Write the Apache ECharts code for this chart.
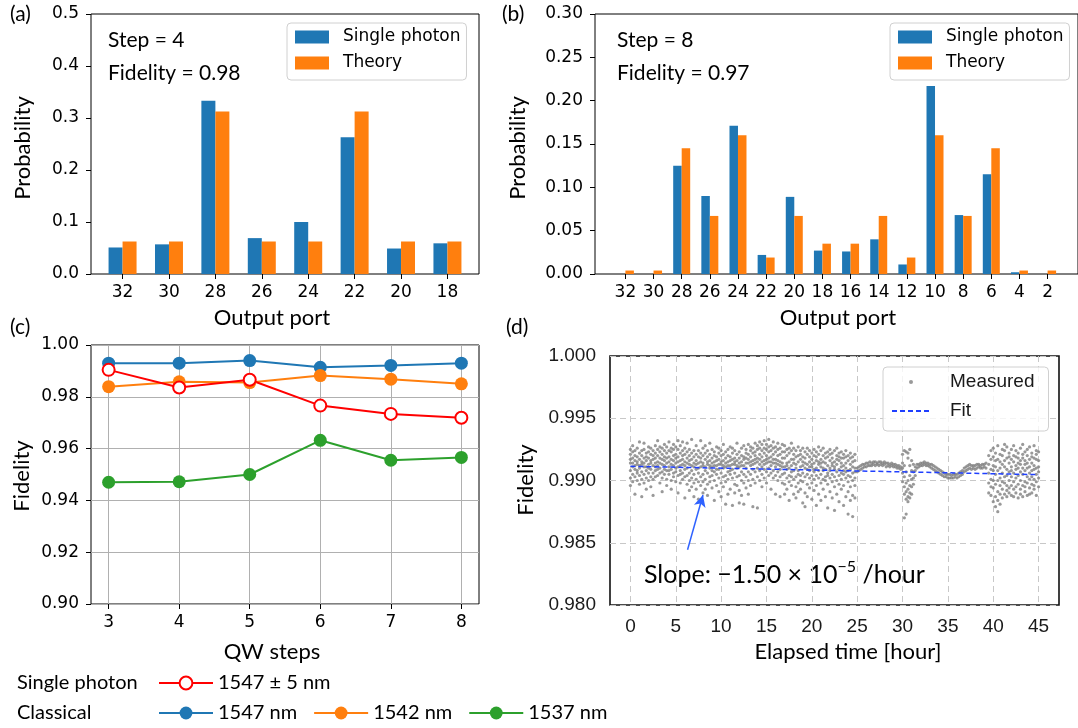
<!DOCTYPE html>
<html lang="en">
<head>
    <meta charset="UTF-8">
    <title>QW fidelity</title>
    <style type="text/css">
        body {
            margin: 0;
            background: #fff;
        }

        #chart {
            width: 1078px;
            height: 728px;
        }
    </style>
    <script type="text/javascript" src="https://cdn.jsdelivr.net/npm/echarts@6/dist/echarts.min.js"></script>
</head>
<body>
    <div id="chart"></div>
</body>
</html>
<script type="text/javascript">
    // (a) step 4
    var portsA = ['32', '30', '28', '26', '24', '22', '20', '18'];
    var singleA = [0.051, 0.057, 0.333, 0.069, 0.100, 0.263, 0.049, 0.059];
    var theoryA = [0.0625, 0.0625, 0.3125, 0.0625, 0.0625, 0.3125, 0.0625, 0.0625];

    // (b) step 8
    var portsB = ['32', '30', '28', '26', '24', '22', '20', '18', '16', '14', '12', '10', '8', '6', '4', '2'];
    var singleB = [0, 0, 0.125, 0.090, 0.171, 0.022, 0.089, 0.027, 0.026, 0.040, 0.011, 0.217, 0.068, 0.115, 0.002, 0];
    var theoryB = [0.004, 0.004, 0.145, 0.067, 0.160, 0.019, 0.067, 0.035, 0.035, 0.067, 0.019, 0.160, 0.067, 0.145, 0.004, 0.004];

    // (c) fidelity vs QW steps
    var qwSteps = [3, 4, 5, 6, 7, 8];
    var single1547 = [0.9904, 0.9836, 0.9866, 0.9766, 0.9734, 0.9719];
    var classical1547 = [0.9930, 0.9930, 0.9940, 0.9914, 0.9921, 0.9930];
    var classical1542 = [0.9839, 0.9858, 0.9855, 0.9882, 0.9868, 0.9850];
    var classical1537 = [0.9470, 0.9472, 0.9500, 0.9632, 0.9555, 0.9566];

    // (d) long-term fidelity, rows are [hour, fidelity, fidelity, ...]
    var timeTicks = [0, 5, 10, 15, 20, 25, 30, 35, 40, 45];
    var cloudEarly = [
        [0.00, 0.9921, 0.9914, 0.9908, 0.9902, 0.9917, 0.9896, 0.9925],
        [0.25, 0.9918, 0.9911, 0.9905, 0.9923, 0.9899, 0.9914, 0.9928],
        [0.50, 0.9916, 0.9909, 0.9920, 0.9903, 0.9912, 0.9889, 0.9924],
        [0.75, 0.9913, 0.9919, 0.9906, 0.9900, 0.9915, 0.9926, 0.9908],
        [1.00, 0.9922, 0.9910, 0.9904, 0.9917, 0.9897, 0.9912, 0.9931],
        [1.25, 0.9915, 0.9907, 0.9920, 0.9901, 0.9913, 0.9887, 0.9924],
        [1.50, 0.9911, 0.9918, 0.9905, 0.9925, 0.9898, 0.9914, 0.9930],
        [1.75, 0.9919, 0.9908, 0.9902, 0.9916, 0.9922, 0.9893, 0.9911],
        [2.00, 0.9923, 0.9913, 0.9906, 0.9918, 0.9900, 0.9927, 0.9910],
        [2.25, 0.9916, 0.9909, 0.9921, 0.9903, 0.9914, 0.9895, 0.9926],
        [2.50, 0.9920, 0.9912, 0.9906, 0.9924, 0.9901, 0.9917, 0.9888],
        [2.75, 0.9914, 0.9922, 0.9908, 0.9918, 0.9903, 0.9928, 0.9911],
        [3.00, 0.9925, 0.9915, 0.9909, 0.9920, 0.9904, 0.9932, 0.9912],
        [3.25, 0.9918, 0.9910, 0.9923, 0.9906, 0.9914, 0.9898, 0.9927],
        [3.50, 0.9921, 0.9913, 0.9907, 0.9926, 0.9902, 0.9917, 0.9891],
        [3.75, 0.9916, 0.9924, 0.9909, 0.9919, 0.9905, 0.9929, 0.9912],
        [4.00, 0.9922, 0.9914, 0.9908, 0.9927, 0.9901, 0.9918, 0.9896],
        [4.25, 0.9919, 0.9911, 0.9924, 0.9905, 0.9915, 0.9931, 0.9908],
        [4.50, 0.9917, 0.9923, 0.9909, 0.9913, 0.9900, 0.9926, 0.9893],
        [4.75, 0.9920, 0.9912, 0.9906, 0.9925, 0.9916, 0.9903, 0.9929],
        [5.00, 0.9914, 0.9921, 0.9907, 0.9918, 0.9899, 0.9927, 0.9910],
        [5.25, 0.9919, 0.9911, 0.9925, 0.9904, 0.9915, 0.9932, 0.9890],
        [5.50, 0.9916, 0.9922, 0.9908, 0.9912, 0.9898, 0.9928, 0.9905],
        [5.75, 0.9920, 0.9913, 0.9906, 0.9924, 0.9901, 0.9917, 0.9931],
        [6.00, 0.9915, 0.9909, 0.9921, 0.9903, 0.9912, 0.9886, 0.9926],
        [6.25, 0.9918, 0.9910, 0.9904, 0.9923, 0.9897, 0.9914, 0.9930],
        [6.50, 0.9913, 0.9920, 0.9906, 0.9916, 0.9900, 0.9892, 0.9925],
        [6.75, 0.9917, 0.9908, 0.9922, 0.9902, 0.9912, 0.9933, 0.9895],
        [7.00, 0.9911, 0.9919, 0.9905, 0.9914, 0.9898, 0.9924, 0.9887],
        [7.25, 0.9916, 0.9909, 0.9921, 0.9901, 0.9913, 0.9928, 0.9893],
        [7.50, 0.9914, 0.9906, 0.9919, 0.9899, 0.9910, 0.9885, 0.9924],
        [7.75, 0.9918, 0.9911, 0.9903, 0.9922, 0.9896, 0.9915, 0.9932],
        [8.00, 0.9912, 0.9920, 0.9905, 0.9914, 0.9890, 0.9926, 0.9899],
        [8.25, 0.9917, 0.9908, 0.9922, 0.9901, 0.9911, 0.9893, 0.9928],
        [8.50, 0.9913, 0.9906, 0.9919, 0.9897, 0.9915, 0.9924, 0.9888],
        [8.75, 0.9916, 0.9910, 0.9903, 0.9921, 0.9899, 0.9912, 0.9930],
        [9.00, 0.9911, 0.9918, 0.9904, 0.9914, 0.9894, 0.9925, 0.9908],
        [9.25, 0.9915, 0.9907, 0.9920, 0.9900, 0.9912, 0.9884, 0.9923],
        [9.50, 0.9912, 0.9919, 0.9905, 0.9916, 0.9896, 0.9927, 0.9909],
        [9.75, 0.9917, 0.9909, 0.9922, 0.9902, 0.9913, 0.9891, 0.9926],
        [10.00, 0.9913, 0.9906, 0.9920, 0.9898, 0.9915, 0.9924, 0.9887],
        [10.25, 0.9916, 0.9910, 0.9903, 0.9921, 0.9895, 0.9912, 0.9929],
        [10.50, 0.9911, 0.9918, 0.9904, 0.9914, 0.9899, 0.9923, 0.9881],
        [10.75, 0.9915, 0.9907, 0.9920, 0.9901, 0.9912, 0.9889, 0.9925],
        [11.00, 0.9912, 0.9919, 0.9905, 0.9916, 0.9893, 0.9927, 0.9908],
        [11.25, 0.9917, 0.9909, 0.9922, 0.9902, 0.9913, 0.9880, 0.9926],
        [11.50, 0.9913, 0.9906, 0.9918, 0.9897, 0.9915, 0.9924, 0.9890],
        [11.75, 0.9916, 0.9910, 0.9903, 0.9921, 0.9896, 0.9912, 0.9930],
        [12.00, 0.9911, 0.9918, 0.9904, 0.9914, 0.9892, 0.9923, 0.9882],
        [12.25, 0.9915, 0.9907, 0.9920, 0.9900, 0.9912, 0.9888, 0.9926],
        [12.50, 0.9912, 0.9919, 0.9905, 0.9917, 0.9898, 0.9928, 0.9881],
        [12.75, 0.9918, 0.9910, 0.9922, 0.9903, 0.9914, 0.9894, 0.9925],
        [13.00, 0.9914, 0.9921, 0.9907, 0.9917, 0.9900, 0.9929, 0.9889],
        [13.25, 0.9919, 0.9912, 0.9924, 0.9905, 0.9915, 0.9896, 0.9927],
        [13.50, 0.9916, 0.9922, 0.9909, 0.9913, 0.9901, 0.9926, 0.9879],
        [13.75, 0.9920, 0.9914, 0.9907, 0.9923, 0.9917, 0.9898, 0.9930],
        [14.00, 0.9918, 0.9925, 0.9910, 0.9915, 0.9903, 0.9928, 0.9878],
        [14.25, 0.9921, 0.9913, 0.9926, 0.9908, 0.9917, 0.9900, 0.9931],
        [14.50, 0.9919, 0.9924, 0.9911, 0.9915, 0.9905, 0.9929, 0.9895],
        [14.75, 0.9922, 0.9916, 0.9909, 0.9926, 0.9913, 0.9902, 0.9932],
        [15.00, 0.9920, 0.9914, 0.9925, 0.9907, 0.9917, 0.9898, 0.9929],
        [15.25, 0.9923, 0.9915, 0.9910, 0.9927, 0.9904, 0.9918, 0.9933],
        [15.50, 0.9919, 0.9912, 0.9924, 0.9906, 0.9915, 0.9893, 0.9928],
        [15.75, 0.9921, 0.9914, 0.9908, 0.9926, 0.9902, 0.9917, 0.9931],
        [16.00, 0.9917, 0.9911, 0.9923, 0.9904, 0.9914, 0.9889, 0.9927],
        [16.25, 0.9920, 0.9913, 0.9907, 0.9925, 0.9900, 0.9916, 0.9930],
        [16.50, 0.9915, 0.9909, 0.9921, 0.9903, 0.9912, 0.9887, 0.9926],
        [16.75, 0.9918, 0.9911, 0.9905, 0.9923, 0.9898, 0.9914, 0.9929],
        [17.00, 0.9918, 0.9906, 0.9923, 0.9911, 0.9897, 0.9928, 0.9889],
        [17.25, 0.9909, 0.9920, 0.9902, 0.9914, 0.9925, 0.9893, 0.9912],
        [17.50, 0.9922, 0.9904, 0.9915, 0.9899, 0.9910, 0.9884, 0.9926],
        [17.75, 0.9907, 0.9917, 0.9912, 0.9924, 0.9896, 0.9903, 0.9930],
        [18.00, 0.9914, 0.9901, 0.9921, 0.9908, 0.9889, 0.9926, 0.9917],
        [18.25, 0.9903, 0.9919, 0.9910, 0.9895, 0.9924, 0.9913, 0.9886],
        [18.50, 0.9920, 0.9908, 0.9898, 0.9915, 0.9927, 0.9905, 0.9891],
        [18.75, 0.9911, 0.9924, 0.9904, 0.9917, 0.9893, 0.9921, 0.9900],
        [19.00, 0.9906, 0.9915, 0.9926, 0.9899, 0.9912, 0.9882, 0.9919],
        [19.25, 0.9918, 0.9903, 0.9910, 0.9923, 0.9890, 0.9914, 0.9879],
        [19.50, 0.9909, 0.9921, 0.9897, 0.9913, 0.9905, 0.9926, 0.9887],
        [19.75, 0.9915, 0.9902, 0.9919, 0.9908, 0.9924, 0.9894, 0.9911],
        [20.00, 0.9904, 0.9917, 0.9911, 0.9898, 0.9922, 0.9885, 0.9913],
        [20.25, 0.9920, 0.9907, 0.9914, 0.9901, 0.9925, 0.9892, 0.9909],
        [20.50, 0.9910, 0.9923, 0.9896, 0.9916, 0.9904, 0.9880, 0.9919],
        [20.75, 0.9902, 0.9913, 0.9921, 0.9908, 0.9889, 0.9927, 0.9915],
        [21.00, 0.9917, 0.9905, 0.9911, 0.9924, 0.9898, 0.9914, 0.9884],
        [21.25, 0.9908, 0.9920, 0.9901, 0.9915, 0.9926, 0.9893, 0.9910],
        [21.50, 0.9914, 0.9903, 0.9922, 0.9909, 0.9887, 0.9918, 0.9900],
        [21.75, 0.9906, 0.9919, 0.9912, 0.9897, 0.9923, 0.9904, 0.9878],
        [22.00, 0.9921, 0.9910, 0.9902, 0.9916, 0.9891, 0.9925, 0.9908],
        [22.25, 0.9912, 0.9899, 0.9918, 0.9905, 0.9922, 0.9886, 0.9914],
        [22.50, 0.9903, 0.9915, 0.9909, 0.9924, 0.9895, 0.9911, 0.9876],
        [22.75, 0.9917, 0.9907, 0.9920, 0.9900, 0.9913, 0.9889, 0.9926],
        [23.00, 0.9909, 0.9922, 0.9904, 0.9916, 0.9897, 0.9919, 0.9883],
        [23.25, 0.9914, 0.9901, 0.9911, 0.9923, 0.9893, 0.9906, 0.9918],
        [23.50, 0.9905, 0.9918, 0.9908, 0.9896, 0.9921, 0.9912, 0.9880],
        [23.75, 0.9919, 0.9910, 0.9902, 0.9914, 0.9887, 0.9924, 0.9907],
        [24.00, 0.9908, 0.9916, 0.9899, 0.9920, 0.9904, 0.9891, 0.9873],
        [24.25, 0.9913, 0.9903, 0.9918, 0.9909, 0.9895, 0.9922, 0.9884],
        [24.50, 0.9906, 0.9919, 0.9911, 0.9900, 0.9915, 0.9888, 0.9871],
        [24.75, 0.9910, 0.9902, 0.9916, 0.9907, 0.9896, 0.9921, 0.9886]
    ];
    var bandMid = [
        [25.0, 0.9907, 0.9910], [25.2, 0.9908, 0.9911], [25.4, 0.9909, 0.9912], [25.6, 0.9910, 0.9913],
        [25.8, 0.9911, 0.9913], [26.0, 0.9911, 0.9914], [26.2, 0.9912, 0.9914], [26.4, 0.9912, 0.9915],
        [26.6, 0.9912, 0.9914], [26.8, 0.9913, 0.9915], [27.0, 0.9912, 0.9915], [27.2, 0.9913, 0.9914],
        [27.4, 0.9912, 0.9915], [27.6, 0.9913, 0.9915], [27.8, 0.9912, 0.9914], [28.0, 0.9913, 0.9915],
        [28.2, 0.9911, 0.9914], [28.4, 0.9912, 0.9914], [28.6, 0.9911, 0.9913], [28.8, 0.9912, 0.9914],
        [29.0, 0.9911, 0.9913], [29.2, 0.9911, 0.9913], [29.4, 0.9910, 0.9912], [29.6, 0.9910, 0.9912],
        [29.8, 0.9909, 0.9911]
    ];
    var dipMid = [
        [30.0, 0.9910, 0.9906, 0.9921, 0.9899, 0.9914],
        [30.2, 0.9903, 0.9924, 0.9895, 0.9870, 0.9912, 0.9889],
        [30.4, 0.9898, 0.9891, 0.9923, 0.9885, 0.9907, 0.9873],
        [30.6, 0.9893, 0.9887, 0.9918, 0.9883, 0.9900, 0.9922],
        [30.8, 0.9890, 0.9896, 0.9886, 0.9912, 0.9904, 0.9925],
        [31.0, 0.9895, 0.9901, 0.9889, 0.9916, 0.9908],
        [31.2, 0.9902, 0.9907, 0.9897, 0.9913],
        [31.4, 0.9908, 0.9911, 0.9904],
        [31.6, 0.9910, 0.9913]
    ];
    var bandLate = [
        [31.8, 0.9911, 0.9913], [32.0, 0.9912, 0.9914], [32.2, 0.9912, 0.9914], [32.4, 0.9913, 0.9915],
        [32.6, 0.9912, 0.9914], [32.8, 0.9912, 0.9914], [33.0, 0.9911, 0.9913], [33.2, 0.9910, 0.9913],
        [33.4, 0.9909, 0.9912], [33.6, 0.9908, 0.9911], [33.8, 0.9907, 0.9910], [34.0, 0.9906, 0.9909],
        [34.2, 0.9905, 0.9908], [34.4, 0.9904, 0.9907], [34.6, 0.9903, 0.9906], [34.8, 0.9903, 0.9905],
        [35.0, 0.9902, 0.9905], [35.2, 0.9902, 0.9905], [35.4, 0.9902, 0.9904], [35.6, 0.9902, 0.9905],
        [35.8, 0.9903, 0.9905], [36.0, 0.9902, 0.9905], [36.2, 0.9903, 0.9906], [36.4, 0.9904, 0.9907],
        [36.6, 0.9905, 0.9908], [36.8, 0.9907, 0.9910], [37.0, 0.9908, 0.9911], [37.2, 0.9909, 0.9912],
        [37.4, 0.9910, 0.9913], [37.6, 0.9909, 0.9912], [37.8, 0.9910, 0.9912], [38.0, 0.9909, 0.9912],
        [38.2, 0.9910, 0.9913], [38.4, 0.9911, 0.9913], [38.6, 0.9910, 0.9912], [38.8, 0.9910, 0.9913],
        [39.0, 0.9911, 0.9913], [39.2, 0.9910, 0.9914]
    ];
    var cloudLate = [
        [39.50, 0.9913, 0.9898, 0.9906, 0.9920, 0.9890],
        [39.75, 0.9901, 0.9917, 0.9888, 0.9909, 0.9924, 0.9895],
        [40.00, 0.9919, 0.9894, 0.9908, 0.9883, 0.9912, 0.9926, 0.9900],
        [40.25, 0.9897, 0.9911, 0.9922, 0.9887, 0.9905, 0.9879, 0.9916],
        [40.50, 0.9908, 0.9891, 0.9917, 0.9900, 0.9928, 0.9884, 0.9875],
        [40.75, 0.9915, 0.9902, 0.9889, 0.9921, 0.9896, 0.9910, 0.9881],
        [41.00, 0.9893, 0.9920, 0.9906, 0.9913, 0.9886, 0.9925, 0.9899],
        [41.25, 0.9911, 0.9898, 0.9924, 0.9889, 0.9916, 0.9903, 0.9929],
        [41.50, 0.9904, 0.9918, 0.9892, 0.9909, 0.9927, 0.9896, 0.9887],
        [41.75, 0.9922, 0.9900, 0.9914, 0.9890, 0.9907, 0.9919, 0.9894],
        [42.00, 0.9896, 0.9911, 0.9925, 0.9903, 0.9888, 0.9917, 0.9908],
        [42.25, 0.9915, 0.9893, 0.9906, 0.9920, 0.9899, 0.9928, 0.9887],
        [42.50, 0.9902, 0.9919, 0.9890, 0.9912, 0.9924, 0.9895, 0.9909],
        [42.75, 0.9918, 0.9897, 0.9910, 0.9886, 0.9922, 0.9904, 0.9914],
        [43.00, 0.9893, 0.9913, 0.9926, 0.9900, 0.9916, 0.9889, 0.9907],
        [43.25, 0.9910, 0.9896, 0.9921, 0.9905, 0.9887, 0.9918, 0.9929],
        [43.50, 0.9899, 0.9916, 0.9891, 0.9923, 0.9908, 0.9895, 0.9913],
        [43.75, 0.9920, 0.9903, 0.9914, 0.9888, 0.9925, 0.9898, 0.9910],
        [44.00, 0.9894, 0.9911, 0.9927, 0.9901, 0.9917, 0.9889, 0.9906],
        [44.25, 0.9914, 0.9897, 0.9908, 0.9922, 0.9890, 0.9919, 0.9903],
        [44.50, 0.9901, 0.9918, 0.9893, 0.9912, 0.9928, 0.9896, 0.9909],
        [44.75, 0.9917, 0.9905, 0.9921, 0.9888, 0.9910, 0.9899, 0.9924],
        [45.00, 0.9907, 0.9895, 0.9916, 0.9902, 0.9923, 0.9911]
    ];
    var fitTimes = [0, 45];
    var fitValues = [0.99114, 0.99047];

    function rowsToPoints(rows) {
        var out = [];
        for (var i = 0; i < rows.length; i++) {
            for (var k = 1; k < rows[i].length; k++) {
                out.push([rows[i][0], rows[i][k]]);
            }
        }
        return out;
    }

    function indexed(arr) {
        var out = [];
        for (var i = 0; i < arr.length; i++) {
            out.push([i, arr[i]]);
        }
        return out;
    }

    function paired(xs, ys) {
        var out = [];
        for (var i = 0; i < xs.length; i++) {
            out.push([xs[i], ys[i]]);
        }
        return out;
    }

    function range(n) {
        var out = [];
        for (var i = 0; i < n; i++) out.push(i);
        return out;
    }

    var measured = [].concat(rowsToPoints(cloudEarly), rowsToPoints(bandMid), rowsToPoints(dipMid),
        rowsToPoints(bandLate), rowsToPoints(cloudLate));

    var C_BLUE = '#1f77b4', C_ORANGE = '#ff7f0e', C_GREEN = '#2ca02c', C_RED = '#ff0000';
    var tickFont = { fontFamily: 'DejaVu Sans', fontSize: 17, color: '#000' };
    var tickD = { fontFamily: 'Liberation Sans', fontSize: 19, color: '#1a1a1a' };
    var gridLineC = { show: true, lineStyle: { color: '#b0b0b0', width: 1 } };
    var gridLineD = { show: true, lineStyle: { color: '#c8c8c8', width: 1, type: [6, 4] } };
    var outTick = { show: true, length: 5, lineStyle: { color: '#000', width: 1 } };
    var noLine = { show: false, onZero: false };

    function txt(x, y, text, size, extra) {
        var el = {
            type: 'text', x: x, y: y, silent: true,
            style: { text: text, font: size + 'px Lato', fill: '#000', align: 'left', verticalAlign: 'middle' }
        };
        if (extra) {
            for (var k in extra) el.style[k] = extra[k];
        }
        return el;
    }

    function vtxt(x, y, text, size) {
        var el = txt(x, y, text, size, { align: 'center' });
        el.rotation = Math.PI / 2;
        return el;
    }

    var chart = echarts.init(document.getElementById('chart'));
    var option = {
        animation: false,
        backgroundColor: '#fff',
        grid: [
            { left: 91, top: 14, width: 388, height: 260, show: true, borderColor: '#000', borderWidth: 1 },
            { left: 595, top: 14, width: 485, height: 260, show: true, borderColor: '#000', borderWidth: 1 },
            { left: 91, top: 345, width: 388, height: 259, show: true, borderColor: '#000', borderWidth: 1 },
            { left: 610, top: 356, width: 449, height: 249, show: true, borderColor: '#111', borderWidth: 1.6 }
        ],
        xAxis: [
            {
                gridIndex: 0, type: 'value', min: -0.68, max: 7.68,
                axisLine: noLine, splitLine: { show: false },
                axisTick: Object.assign({ customValues: range(portsA.length) }, outTick),
                axisLabel: Object.assign({
                    customValues: range(portsA.length), margin: 10,
                    formatter: function (v) { return portsA[Math.round(v)]; }
                }, tickFont)
            },
            {
                gridIndex: 1, type: 'value', min: -1.08, max: 16.08,
                axisLine: noLine, splitLine: { show: false },
                axisTick: Object.assign({ customValues: range(portsB.length) }, outTick),
                axisLabel: Object.assign({
                    customValues: range(portsB.length), margin: 10,
                    formatter: function (v) { return portsB[Math.round(v)]; }
                }, tickFont)
            },
            {
                gridIndex: 2, type: 'value', min: 2.75, max: 8.25,
                axisLine: noLine, splitLine: gridLineC,
                axisTick: Object.assign({ customValues: qwSteps }, outTick),
                axisLabel: Object.assign({ customValues: qwSteps, margin: 10 }, tickFont)
            },
            {
                gridIndex: 3, type: 'value', min: -2.25, max: 47.25,
                axisLine: noLine, splitLine: gridLineD,
                axisTick: { show: false, customValues: timeTicks },
                axisLabel: Object.assign({ customValues: timeTicks, margin: 12 }, tickD)
            }
        ],
        yAxis: [
            {
                gridIndex: 0, type: 'value', min: 0, max: 0.5, interval: 0.1,
                axisLine: noLine, splitLine: { show: false }, axisTick: outTick,
                axisLabel: Object.assign({ margin: 12, formatter: function (v) { return v.toFixed(1); } }, tickFont)
            },
            {
                gridIndex: 1, type: 'value', min: 0, max: 0.3, interval: 0.05,
                axisLine: noLine, splitLine: { show: false }, axisTick: outTick,
                axisLabel: Object.assign({ margin: 12, formatter: function (v) { return v.toFixed(2); } }, tickFont)
            },
            {
                gridIndex: 2, type: 'value', min: 0.9, max: 1.0, interval: 0.02,
                axisLine: noLine, splitLine: gridLineC, axisTick: outTick,
                axisLabel: Object.assign({ margin: 12, formatter: function (v) { return v.toFixed(2); } }, tickFont)
            },
            {
                gridIndex: 3, type: 'value', min: 0.98, max: 1.0, interval: 0.005,
                axisLine: noLine, splitLine: gridLineD, axisTick: { show: false },
                axisLabel: Object.assign({ margin: 14, formatter: function (v) { return v.toFixed(3); } }, tickD)
            }
        ],
        legend: [
            {
                left: 287, top: 23, orient: 'vertical', selectedMode: false,
                data: ['Single photon', 'Theory'], icon: 'rect', itemWidth: 34, itemHeight: 13, itemGap: 6,
                padding: [4, 6, 7, 8], backgroundColor: 'rgba(255,255,255,0.8)',
                borderColor: '#d0d0d0', borderWidth: 1, borderRadius: 4,
                textStyle: { fontFamily: 'DejaVu Sans', fontSize: 17, lineHeight: 20, color: '#000', padding: [0, 0, 0, 9] }
            },
            {
                left: 890, top: 23, orient: 'vertical', selectedMode: false,
                data: ['Single photon', 'Theory'], icon: 'rect', itemWidth: 34, itemHeight: 13, itemGap: 6,
                padding: [4, 6, 7, 8], backgroundColor: 'rgba(255,255,255,0.8)',
                borderColor: '#d0d0d0', borderWidth: 1, borderRadius: 4,
                textStyle: { fontFamily: 'DejaVu Sans', fontSize: 17, lineHeight: 20, color: '#000', padding: [0, 0, 0, 9] }
            },
            {
                left: 158, top: 671, selectedMode: false, padding: 0,
                data: ['1547 ± 5 nm'], itemWidth: 54, itemHeight: 16,
                textStyle: { fontFamily: 'Lato', fontSize: 20, lineHeight: 24, color: '#000' }
            },
            {
                left: 158, top: 701, selectedMode: false, padding: 0, itemGap: 16,
                data: ['1547 nm', '1542 nm', '1537 nm'], itemWidth: 54, itemHeight: 16,
                textStyle: { fontFamily: 'Lato', fontSize: 20, lineHeight: 24, color: '#000' }
            },
            {
                left: 883, top: 367, orient: 'vertical', selectedMode: false,
                data: [
                    { name: 'Measured', icon: 'path://M0,0L0,0M17,6a2,2,0,1,0,4,0a2,2,0,1,0,-4,0ZM38,12L38,12' },
                    { name: 'Fit', itemStyle: { opacity: 0 } }
                ],
                itemWidth: 38, itemHeight: 12, itemGap: 7,
                padding: [4, 14, 9, 8], backgroundColor: 'rgba(255,255,255,0.8)',
                borderColor: '#d0d0d0', borderWidth: 1, borderRadius: 4,
                textStyle: { fontFamily: 'Liberation Sans', fontSize: 19, lineHeight: 22, color: '#1a1a1a', padding: [0, 0, 0, 15] }
            }
        ],
        graphic: {
            elements: [
                txt(10, 14, '(a)', 21),
                txt(502, 14, '(b)', 21),
                txt(10, 327, '(c)', 21),
                txt(506, 327, '(d)', 21),
                txt(108, 40, 'Step = 4', 21),
                txt(108, 73, 'Fidelity = 0.98', 21),
                txt(617, 40, 'Step = 8', 21),
                txt(617, 73, 'Fidelity = 0.97', 21),
                txt(272, 318, 'Output port', 22, { align: 'center' }),
                txt(838, 318, 'Output port', 22, { align: 'center' }),
                vtxt(23, 148, 'Probability', 22),
                vtxt(518, 148, 'Probability', 22),
                vtxt(22, 476, 'Fidelity', 22),
                vtxt(526, 480, 'Fidelity', 22),
                txt(272, 652, 'QW steps', 22, { align: 'center' }),
                txt(848, 652, 'Elapsed time [hour]', 22, { align: 'center' }),
                txt(17, 683, 'Single photon', 20),
                txt(17, 713, 'Classical', 20),
                {
                    type: 'text', x: 644, y: 575, silent: true,
                    style: {
                        text: '{m|Slope: −1.50 × 10}{s|−5}{m| /hour}',
                        verticalAlign: 'middle',
                        rich: {
                            m: { fontFamily: 'Lato', fontSize: 25, lineHeight: 32, fill: '#000' },
                            s: { fontFamily: 'Lato', fontSize: 16, lineHeight: 16, padding: [0, 0, 16, 0], verticalAlign: 'top', fill: '#000' }
                        }
                    }
                }
            ]
        },
        series: [
            {
                name: 'Single photon', type: 'bar', xAxisIndex: 0, yAxisIndex: 0,
                barWidth: 14, barGap: '0%', itemStyle: { color: C_BLUE }, data: indexed(singleA)
            },
            {
                name: 'Theory', type: 'bar', xAxisIndex: 0, yAxisIndex: 0,
                barWidth: 14, barGap: '0%', itemStyle: { color: C_ORANGE }, data: indexed(theoryA)
            },
            {
                name: 'Single photon', type: 'bar', xAxisIndex: 1, yAxisIndex: 1,
                barWidth: 8.5, barGap: '0%', itemStyle: { color: C_BLUE }, data: indexed(singleB)
            },
            {
                name: 'Theory', type: 'bar', xAxisIndex: 1, yAxisIndex: 1,
                barWidth: 8.5, barGap: '0%', itemStyle: { color: C_ORANGE }, data: indexed(theoryB)
            },
            {
                name: '1547 nm', type: 'line', xAxisIndex: 2, yAxisIndex: 2,
                symbol: 'circle', symbolSize: 13, lineStyle: { color: C_BLUE, width: 2 },
                itemStyle: { color: C_BLUE }, data: paired(qwSteps, classical1547)
            },
            {
                name: '1542 nm', type: 'line', xAxisIndex: 2, yAxisIndex: 2,
                symbol: 'circle', symbolSize: 13, lineStyle: { color: C_ORANGE, width: 2 },
                itemStyle: { color: C_ORANGE }, data: paired(qwSteps, classical1542)
            },
            {
                name: '1537 nm', type: 'line', xAxisIndex: 2, yAxisIndex: 2,
                symbol: 'circle', symbolSize: 13, lineStyle: { color: C_GREEN, width: 2 },
                itemStyle: { color: C_GREEN }, data: paired(qwSteps, classical1537)
            },
            {
                name: '1547 ± 5 nm', type: 'line', xAxisIndex: 2, yAxisIndex: 2,
                symbol: 'circle', symbolSize: 12, lineStyle: { color: C_RED, width: 2 },
                itemStyle: { color: '#fff', borderColor: C_RED, borderWidth: 2 },
                data: paired(qwSteps, single1547)
            },
            {
                name: 'Measured', type: 'scatter', xAxisIndex: 3, yAxisIndex: 3,
                symbol: 'circle', symbolSize: 3.2, itemStyle: { color: '#808080' }, data: measured
            },
            {
                name: 'Fit', type: 'line', xAxisIndex: 3, yAxisIndex: 3, symbol: 'none', z: 4,
                lineStyle: { color: '#1f3fff', width: 1.5, type: [5, 3] },
                data: paired(fitTimes, fitValues),
                markLine: {
                    silent: true, symbol: ['none', 'arrow'], symbolSize: [9, 12],
                    lineStyle: { color: '#2f62ff', width: 1.5, type: 'solid' },
                    label: { show: false },
                    data: [[{ coord: [6.3, 0.98444] }, { coord: [8.0, 0.98884] }]]
                }
            }
        ]
    };
    chart.setOption(option);
</script>
